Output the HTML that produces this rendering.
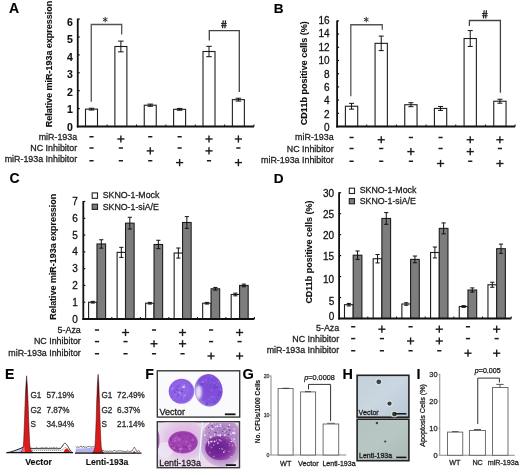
<!DOCTYPE html>
<html><head><meta charset="utf-8"><style>
html,body{margin:0;padding:0;background:#fff;}
svg{display:block;font-family:"Liberation Sans", sans-serif;will-change:transform;-webkit-font-smoothing:antialiased;}
</style></head><body>
<svg width="520" height="472" viewBox="0 0 520 472">
<rect width="520" height="472" fill="#fff"/>
<text x="9.00" y="12.60" font-size="14" font-weight="bold" text-anchor="start" fill="#000" stroke="#000" stroke-width="0.12">A</text>
<text x="52.40" y="127.25" font-size="8.96" font-weight="bold" text-anchor="start" fill="#111" transform="rotate(-90 52.4 127.25)" stroke="#111" stroke-width="0.12">Relative miR-193a expression</text>
<text x="72.80" y="130.73" font-size="10.5" font-weight="bold" text-anchor="end" fill="#111" stroke="#111" stroke-width="0.12">0</text>
<text x="72.80" y="113.21" font-size="10.5" font-weight="bold" text-anchor="end" fill="#111" stroke="#111" stroke-width="0.12">1</text>
<line x1="77.75" y1="108.60" x2="79.75" y2="108.60" stroke="#111" stroke-width="1.2"/>
<text x="72.80" y="95.69" font-size="10.5" font-weight="bold" text-anchor="end" fill="#111" stroke="#111" stroke-width="0.12">2</text>
<line x1="77.75" y1="90.70" x2="79.75" y2="90.70" stroke="#111" stroke-width="1.2"/>
<text x="72.80" y="78.16" font-size="10.5" font-weight="bold" text-anchor="end" fill="#111" stroke="#111" stroke-width="0.12">3</text>
<line x1="77.75" y1="72.80" x2="79.75" y2="72.80" stroke="#111" stroke-width="1.2"/>
<text x="72.80" y="60.63" font-size="10.5" font-weight="bold" text-anchor="end" fill="#111" stroke="#111" stroke-width="0.12">4</text>
<line x1="77.75" y1="54.90" x2="79.75" y2="54.90" stroke="#111" stroke-width="1.2"/>
<text x="72.80" y="43.11" font-size="10.5" font-weight="bold" text-anchor="end" fill="#111" stroke="#111" stroke-width="0.12">5</text>
<line x1="77.75" y1="37.00" x2="79.75" y2="37.00" stroke="#111" stroke-width="1.2"/>
<text x="72.80" y="25.59" font-size="10.5" font-weight="bold" text-anchor="end" fill="#111" stroke="#111" stroke-width="0.12">6</text>
<line x1="77.75" y1="19.10" x2="79.75" y2="19.10" stroke="#111" stroke-width="1.2"/>
<rect x="85.50" y="109.14" width="12.00" height="17.36" fill="#fff" stroke="#1e1e1e" stroke-width="1.1"/>
<line x1="91.50" y1="108.24" x2="91.50" y2="110.03" stroke="#111" stroke-width="1.0"/>
<line x1="88.75" y1="108.24" x2="94.25" y2="108.24" stroke="#111" stroke-width="1.0"/>
<line x1="88.75" y1="110.03" x2="94.25" y2="110.03" stroke="#111" stroke-width="1.0"/>
<rect x="114.88" y="46.49" width="12.00" height="80.01" fill="#fff" stroke="#1e1e1e" stroke-width="1.1"/>
<line x1="120.88" y1="41.12" x2="120.88" y2="51.86" stroke="#111" stroke-width="1.0"/>
<line x1="118.12" y1="41.12" x2="123.62" y2="41.12" stroke="#111" stroke-width="1.0"/>
<line x1="118.12" y1="51.86" x2="123.62" y2="51.86" stroke="#111" stroke-width="1.0"/>
<rect x="144.25" y="105.20" width="12.00" height="21.30" fill="#fff" stroke="#1e1e1e" stroke-width="1.1"/>
<line x1="150.25" y1="104.12" x2="150.25" y2="106.27" stroke="#111" stroke-width="1.0"/>
<line x1="147.50" y1="104.12" x2="153.00" y2="104.12" stroke="#111" stroke-width="1.0"/>
<line x1="147.50" y1="106.27" x2="153.00" y2="106.27" stroke="#111" stroke-width="1.0"/>
<rect x="173.62" y="109.32" width="12.00" height="17.18" fill="#fff" stroke="#1e1e1e" stroke-width="1.1"/>
<line x1="179.62" y1="108.42" x2="179.62" y2="110.21" stroke="#111" stroke-width="1.0"/>
<line x1="176.88" y1="108.42" x2="182.38" y2="108.42" stroke="#111" stroke-width="1.0"/>
<line x1="176.88" y1="110.21" x2="182.38" y2="110.21" stroke="#111" stroke-width="1.0"/>
<rect x="203.00" y="51.50" width="12.00" height="75.00" fill="#fff" stroke="#1e1e1e" stroke-width="1.1"/>
<line x1="209.00" y1="46.31" x2="209.00" y2="56.69" stroke="#111" stroke-width="1.0"/>
<line x1="206.25" y1="46.31" x2="211.75" y2="46.31" stroke="#111" stroke-width="1.0"/>
<line x1="206.25" y1="56.69" x2="211.75" y2="56.69" stroke="#111" stroke-width="1.0"/>
<rect x="232.38" y="99.65" width="12.00" height="26.85" fill="#fff" stroke="#1e1e1e" stroke-width="1.1"/>
<line x1="238.38" y1="98.22" x2="238.38" y2="101.08" stroke="#111" stroke-width="1.0"/>
<line x1="235.62" y1="98.22" x2="241.12" y2="98.22" stroke="#111" stroke-width="1.0"/>
<line x1="235.62" y1="101.08" x2="241.12" y2="101.08" stroke="#111" stroke-width="1.0"/>
<line x1="107.12" y1="126.50" x2="107.12" y2="124.50" stroke="#111" stroke-width="1"/>
<line x1="136.50" y1="126.50" x2="136.50" y2="124.50" stroke="#111" stroke-width="1"/>
<line x1="165.88" y1="126.50" x2="165.88" y2="124.50" stroke="#111" stroke-width="1"/>
<line x1="195.25" y1="126.50" x2="195.25" y2="124.50" stroke="#111" stroke-width="1"/>
<line x1="224.62" y1="126.50" x2="224.62" y2="124.50" stroke="#111" stroke-width="1"/>
<line x1="254.00" y1="126.50" x2="254.00" y2="124.50" stroke="#111" stroke-width="1"/>
<line x1="77.75" y1="18.60" x2="77.75" y2="127.50" stroke="#111" stroke-width="1.8"/>
<line x1="76.85" y1="126.50" x2="254.00" y2="126.50" stroke="#111" stroke-width="1.8"/>
<path d="M91.25,101.75 V24.5 H121.7 V34.6" stroke="#555" stroke-width="1.3" fill="none"/>
<line x1="105.20" y1="17.30" x2="105.20" y2="21.90" stroke="#333" stroke-width="1.0" stroke-linecap="round"/>
<line x1="103.21" y1="18.45" x2="107.19" y2="20.75" stroke="#333" stroke-width="1.0" stroke-linecap="round"/>
<line x1="103.21" y1="20.75" x2="107.19" y2="18.45" stroke="#333" stroke-width="1.0" stroke-linecap="round"/>
<path d="M209.3,40.6 V30.6 H239.3 V92.1" stroke="#444" stroke-width="1.3" fill="none"/>
<line x1="223.26" y1="20.40" x2="222.56" y2="28.20" stroke="#222" stroke-width="1.25"/>
<line x1="225.53" y1="20.40" x2="224.83" y2="28.20" stroke="#222" stroke-width="1.25"/>
<line x1="221.00" y1="23.52" x2="226.80" y2="23.52" stroke="#222" stroke-width="0.95"/>
<line x1="221.00" y1="25.63" x2="226.80" y2="25.63" stroke="#222" stroke-width="0.95"/>
<text x="77.20" y="139.90" font-size="8.9" font-weight="normal" text-anchor="end" fill="#222" stroke="#222" stroke-width="0.28">miR-193a</text>
<text x="77.20" y="151.10" font-size="8.9" font-weight="normal" text-anchor="end" fill="#222" stroke="#222" stroke-width="0.28">NC Inhibitor</text>
<text x="77.20" y="162.40" font-size="8.9" font-weight="normal" text-anchor="end" fill="#222" stroke="#222" stroke-width="0.28">miR-193a Inhibitor</text>
<line x1="89.40" y1="136.75" x2="93.60" y2="136.75" stroke="#1a1a1a" stroke-width="1.5"/>
<line x1="89.40" y1="148.00" x2="93.60" y2="148.00" stroke="#1a1a1a" stroke-width="1.5"/>
<line x1="89.40" y1="160.75" x2="93.60" y2="160.75" stroke="#1a1a1a" stroke-width="1.5"/>
<line x1="117.28" y1="139.00" x2="124.47" y2="139.00" stroke="#1a1a1a" stroke-width="1.4"/>
<line x1="120.88" y1="135.40" x2="120.88" y2="142.60" stroke="#1a1a1a" stroke-width="1.4"/>
<line x1="118.78" y1="148.00" x2="122.97" y2="148.00" stroke="#1a1a1a" stroke-width="1.5"/>
<line x1="118.78" y1="160.75" x2="122.97" y2="160.75" stroke="#1a1a1a" stroke-width="1.5"/>
<line x1="148.15" y1="136.75" x2="152.35" y2="136.75" stroke="#1a1a1a" stroke-width="1.5"/>
<line x1="146.65" y1="150.90" x2="153.85" y2="150.90" stroke="#1a1a1a" stroke-width="1.4"/>
<line x1="150.25" y1="147.30" x2="150.25" y2="154.50" stroke="#1a1a1a" stroke-width="1.4"/>
<line x1="148.15" y1="160.75" x2="152.35" y2="160.75" stroke="#1a1a1a" stroke-width="1.5"/>
<line x1="177.53" y1="136.75" x2="181.72" y2="136.75" stroke="#1a1a1a" stroke-width="1.5"/>
<line x1="177.53" y1="148.00" x2="181.72" y2="148.00" stroke="#1a1a1a" stroke-width="1.5"/>
<line x1="176.03" y1="162.60" x2="183.22" y2="162.60" stroke="#1a1a1a" stroke-width="1.4"/>
<line x1="179.62" y1="159.00" x2="179.62" y2="166.20" stroke="#1a1a1a" stroke-width="1.4"/>
<line x1="205.40" y1="139.00" x2="212.60" y2="139.00" stroke="#1a1a1a" stroke-width="1.4"/>
<line x1="209.00" y1="135.40" x2="209.00" y2="142.60" stroke="#1a1a1a" stroke-width="1.4"/>
<line x1="205.40" y1="150.90" x2="212.60" y2="150.90" stroke="#1a1a1a" stroke-width="1.4"/>
<line x1="209.00" y1="147.30" x2="209.00" y2="154.50" stroke="#1a1a1a" stroke-width="1.4"/>
<line x1="206.90" y1="160.75" x2="211.10" y2="160.75" stroke="#1a1a1a" stroke-width="1.5"/>
<line x1="234.78" y1="139.00" x2="241.97" y2="139.00" stroke="#1a1a1a" stroke-width="1.4"/>
<line x1="238.38" y1="135.40" x2="238.38" y2="142.60" stroke="#1a1a1a" stroke-width="1.4"/>
<line x1="236.28" y1="148.00" x2="240.47" y2="148.00" stroke="#1a1a1a" stroke-width="1.5"/>
<line x1="234.78" y1="162.60" x2="241.97" y2="162.60" stroke="#1a1a1a" stroke-width="1.4"/>
<line x1="238.38" y1="159.00" x2="238.38" y2="166.20" stroke="#1a1a1a" stroke-width="1.4"/>
<text x="273.80" y="12.50" font-size="13.6" font-weight="bold" text-anchor="start" fill="#000" stroke="#000" stroke-width="0.12">B</text>
<text x="306.60" y="125.20" font-size="9.06" font-weight="bold" text-anchor="start" fill="#111" transform="rotate(-90 306.6 125.2)" stroke="#111" stroke-width="0.12">CD11b positive cells (%)</text>
<text x="329.60" y="131.40" font-size="10" font-weight="normal" text-anchor="end" fill="#111" stroke="#111" stroke-width="0.28">0</text>
<text x="329.60" y="117.92" font-size="10" font-weight="normal" text-anchor="end" fill="#111" stroke="#111" stroke-width="0.28">2</text>
<line x1="337.10" y1="113.30" x2="339.10" y2="113.30" stroke="#111" stroke-width="1.2"/>
<text x="329.60" y="104.45" font-size="10" font-weight="normal" text-anchor="end" fill="#111" stroke="#111" stroke-width="0.28">4</text>
<line x1="337.10" y1="100.10" x2="339.10" y2="100.10" stroke="#111" stroke-width="1.2"/>
<text x="329.60" y="90.97" font-size="10" font-weight="normal" text-anchor="end" fill="#111" stroke="#111" stroke-width="0.28">6</text>
<line x1="337.10" y1="86.90" x2="339.10" y2="86.90" stroke="#111" stroke-width="1.2"/>
<text x="329.60" y="77.50" font-size="10" font-weight="normal" text-anchor="end" fill="#111" stroke="#111" stroke-width="0.28">8</text>
<line x1="337.10" y1="73.70" x2="339.10" y2="73.70" stroke="#111" stroke-width="1.2"/>
<text x="329.60" y="64.02" font-size="10" font-weight="normal" text-anchor="end" fill="#111" stroke="#111" stroke-width="0.28">10</text>
<line x1="337.10" y1="60.50" x2="339.10" y2="60.50" stroke="#111" stroke-width="1.2"/>
<text x="329.60" y="50.55" font-size="10" font-weight="normal" text-anchor="end" fill="#111" stroke="#111" stroke-width="0.28">12</text>
<line x1="337.10" y1="47.30" x2="339.10" y2="47.30" stroke="#111" stroke-width="1.2"/>
<text x="329.60" y="37.07" font-size="10" font-weight="normal" text-anchor="end" fill="#111" stroke="#111" stroke-width="0.28">14</text>
<line x1="337.10" y1="34.10" x2="339.10" y2="34.10" stroke="#111" stroke-width="1.2"/>
<text x="329.60" y="23.60" font-size="10" font-weight="normal" text-anchor="end" fill="#111" stroke="#111" stroke-width="0.28">16</text>
<line x1="337.10" y1="20.90" x2="339.10" y2="20.90" stroke="#111" stroke-width="1.2"/>
<rect x="345.40" y="106.24" width="12.30" height="20.26" fill="#fff" stroke="#1e1e1e" stroke-width="1.1"/>
<line x1="351.55" y1="103.33" x2="351.55" y2="109.14" stroke="#111" stroke-width="1.0"/>
<line x1="349.05" y1="103.33" x2="354.05" y2="103.33" stroke="#111" stroke-width="1.0"/>
<line x1="349.05" y1="109.14" x2="354.05" y2="109.14" stroke="#111" stroke-width="1.0"/>
<rect x="375.07" y="43.34" width="12.30" height="83.16" fill="#fff" stroke="#1e1e1e" stroke-width="1.1"/>
<line x1="381.22" y1="36.08" x2="381.22" y2="50.60" stroke="#111" stroke-width="1.0"/>
<line x1="378.72" y1="36.08" x2="383.72" y2="36.08" stroke="#111" stroke-width="1.0"/>
<line x1="378.72" y1="50.60" x2="383.72" y2="50.60" stroke="#111" stroke-width="1.0"/>
<rect x="404.74" y="104.72" width="12.30" height="21.78" fill="#fff" stroke="#1e1e1e" stroke-width="1.1"/>
<line x1="410.89" y1="102.74" x2="410.89" y2="106.70" stroke="#111" stroke-width="1.0"/>
<line x1="408.39" y1="102.74" x2="413.39" y2="102.74" stroke="#111" stroke-width="1.0"/>
<line x1="408.39" y1="106.70" x2="413.39" y2="106.70" stroke="#111" stroke-width="1.0"/>
<rect x="434.41" y="108.42" width="12.30" height="18.08" fill="#fff" stroke="#1e1e1e" stroke-width="1.1"/>
<line x1="440.56" y1="106.44" x2="440.56" y2="110.40" stroke="#111" stroke-width="1.0"/>
<line x1="438.06" y1="106.44" x2="443.06" y2="106.44" stroke="#111" stroke-width="1.0"/>
<line x1="438.06" y1="110.40" x2="443.06" y2="110.40" stroke="#111" stroke-width="1.0"/>
<rect x="464.08" y="38.52" width="12.30" height="87.98" fill="#fff" stroke="#1e1e1e" stroke-width="1.1"/>
<line x1="470.23" y1="30.60" x2="470.23" y2="46.44" stroke="#111" stroke-width="1.0"/>
<line x1="467.73" y1="30.60" x2="472.73" y2="30.60" stroke="#111" stroke-width="1.0"/>
<line x1="467.73" y1="46.44" x2="472.73" y2="46.44" stroke="#111" stroke-width="1.0"/>
<rect x="493.75" y="101.22" width="12.30" height="25.28" fill="#fff" stroke="#1e1e1e" stroke-width="1.1"/>
<line x1="499.90" y1="99.24" x2="499.90" y2="103.20" stroke="#111" stroke-width="1.0"/>
<line x1="497.40" y1="99.24" x2="502.40" y2="99.24" stroke="#111" stroke-width="1.0"/>
<line x1="497.40" y1="103.20" x2="502.40" y2="103.20" stroke="#111" stroke-width="1.0"/>
<line x1="366.77" y1="126.50" x2="366.77" y2="124.50" stroke="#111" stroke-width="1"/>
<line x1="396.44" y1="126.50" x2="396.44" y2="124.50" stroke="#111" stroke-width="1"/>
<line x1="426.11" y1="126.50" x2="426.11" y2="124.50" stroke="#111" stroke-width="1"/>
<line x1="455.78" y1="126.50" x2="455.78" y2="124.50" stroke="#111" stroke-width="1"/>
<line x1="485.45" y1="126.50" x2="485.45" y2="124.50" stroke="#111" stroke-width="1"/>
<line x1="515.12" y1="126.50" x2="515.12" y2="124.50" stroke="#111" stroke-width="1"/>
<line x1="337.10" y1="20.40" x2="337.10" y2="127.50" stroke="#111" stroke-width="1.8"/>
<line x1="336.20" y1="126.50" x2="515.12" y2="126.50" stroke="#111" stroke-width="1.8"/>
<path d="M350.8,96.25 V24.75 H382.25 V29.75" stroke="#555" stroke-width="1.3" fill="none"/>
<line x1="366.25" y1="17.30" x2="366.25" y2="21.90" stroke="#333" stroke-width="1.0" stroke-linecap="round"/>
<line x1="364.26" y1="18.45" x2="368.24" y2="20.75" stroke="#333" stroke-width="1.0" stroke-linecap="round"/>
<line x1="364.26" y1="20.75" x2="368.24" y2="18.45" stroke="#333" stroke-width="1.0" stroke-linecap="round"/>
<path d="M469.4,26 V20.5 H500.4 V92.75" stroke="#444" stroke-width="1.3" fill="none"/>
<line x1="484.16" y1="10.30" x2="483.46" y2="18.40" stroke="#222" stroke-width="1.25"/>
<line x1="486.43" y1="10.30" x2="485.73" y2="18.40" stroke="#222" stroke-width="1.25"/>
<line x1="481.90" y1="13.54" x2="487.70" y2="13.54" stroke="#222" stroke-width="0.95"/>
<line x1="481.90" y1="15.73" x2="487.70" y2="15.73" stroke="#222" stroke-width="0.95"/>
<text x="333.60" y="140.25" font-size="8.9" font-weight="normal" text-anchor="end" fill="#222" stroke="#222" stroke-width="0.28">miR-193a</text>
<text x="333.60" y="151.50" font-size="8.9" font-weight="normal" text-anchor="end" fill="#222" stroke="#222" stroke-width="0.28">NC Inhibitor</text>
<text x="333.60" y="162.50" font-size="8.9" font-weight="normal" text-anchor="end" fill="#222" stroke="#222" stroke-width="0.28">miR-193a Inhibitor</text>
<line x1="349.45" y1="137.50" x2="353.65" y2="137.50" stroke="#1a1a1a" stroke-width="1.5"/>
<line x1="349.45" y1="148.50" x2="353.65" y2="148.50" stroke="#1a1a1a" stroke-width="1.5"/>
<line x1="349.45" y1="161.25" x2="353.65" y2="161.25" stroke="#1a1a1a" stroke-width="1.5"/>
<line x1="377.62" y1="139.75" x2="384.82" y2="139.75" stroke="#1a1a1a" stroke-width="1.4"/>
<line x1="381.22" y1="136.15" x2="381.22" y2="143.35" stroke="#1a1a1a" stroke-width="1.4"/>
<line x1="379.12" y1="148.50" x2="383.32" y2="148.50" stroke="#1a1a1a" stroke-width="1.5"/>
<line x1="379.12" y1="161.25" x2="383.32" y2="161.25" stroke="#1a1a1a" stroke-width="1.5"/>
<line x1="408.79" y1="137.50" x2="412.99" y2="137.50" stroke="#1a1a1a" stroke-width="1.5"/>
<line x1="407.29" y1="151.60" x2="414.49" y2="151.60" stroke="#1a1a1a" stroke-width="1.4"/>
<line x1="410.89" y1="148.00" x2="410.89" y2="155.20" stroke="#1a1a1a" stroke-width="1.4"/>
<line x1="408.79" y1="161.25" x2="412.99" y2="161.25" stroke="#1a1a1a" stroke-width="1.5"/>
<line x1="438.46" y1="137.50" x2="442.66" y2="137.50" stroke="#1a1a1a" stroke-width="1.5"/>
<line x1="438.46" y1="148.50" x2="442.66" y2="148.50" stroke="#1a1a1a" stroke-width="1.5"/>
<line x1="436.96" y1="163.50" x2="444.16" y2="163.50" stroke="#1a1a1a" stroke-width="1.4"/>
<line x1="440.56" y1="159.90" x2="440.56" y2="167.10" stroke="#1a1a1a" stroke-width="1.4"/>
<line x1="466.63" y1="139.75" x2="473.83" y2="139.75" stroke="#1a1a1a" stroke-width="1.4"/>
<line x1="470.23" y1="136.15" x2="470.23" y2="143.35" stroke="#1a1a1a" stroke-width="1.4"/>
<line x1="466.63" y1="151.60" x2="473.83" y2="151.60" stroke="#1a1a1a" stroke-width="1.4"/>
<line x1="470.23" y1="148.00" x2="470.23" y2="155.20" stroke="#1a1a1a" stroke-width="1.4"/>
<line x1="468.13" y1="161.25" x2="472.33" y2="161.25" stroke="#1a1a1a" stroke-width="1.5"/>
<line x1="496.30" y1="139.75" x2="503.50" y2="139.75" stroke="#1a1a1a" stroke-width="1.4"/>
<line x1="499.90" y1="136.15" x2="499.90" y2="143.35" stroke="#1a1a1a" stroke-width="1.4"/>
<line x1="497.80" y1="148.50" x2="502.00" y2="148.50" stroke="#1a1a1a" stroke-width="1.5"/>
<line x1="496.30" y1="163.50" x2="503.50" y2="163.50" stroke="#1a1a1a" stroke-width="1.4"/>
<line x1="499.90" y1="159.90" x2="499.90" y2="167.10" stroke="#1a1a1a" stroke-width="1.4"/>
<text x="9.40" y="183.30" font-size="14" font-weight="bold" text-anchor="start" fill="#000" stroke="#000" stroke-width="0.12">C</text>
<text x="56.30" y="319.75" font-size="8.93" font-weight="bold" text-anchor="start" fill="#111" transform="rotate(-90 56.3 319.75)" stroke="#111" stroke-width="0.12">Relative miR-193a expression</text>
<text x="77.80" y="322.60" font-size="10" font-weight="normal" text-anchor="end" fill="#111" stroke="#111" stroke-width="0.28">0</text>
<text x="77.80" y="305.81" font-size="10" font-weight="normal" text-anchor="end" fill="#111" stroke="#111" stroke-width="0.28">1</text>
<line x1="83.30" y1="302.21" x2="85.30" y2="302.21" stroke="#111" stroke-width="1.2"/>
<text x="77.80" y="289.03" font-size="10" font-weight="normal" text-anchor="end" fill="#111" stroke="#111" stroke-width="0.28">2</text>
<line x1="83.30" y1="285.43" x2="85.30" y2="285.43" stroke="#111" stroke-width="1.2"/>
<text x="77.80" y="272.24" font-size="10" font-weight="normal" text-anchor="end" fill="#111" stroke="#111" stroke-width="0.28">3</text>
<line x1="83.30" y1="268.64" x2="85.30" y2="268.64" stroke="#111" stroke-width="1.2"/>
<text x="77.80" y="255.46" font-size="10" font-weight="normal" text-anchor="end" fill="#111" stroke="#111" stroke-width="0.28">4</text>
<line x1="83.30" y1="251.86" x2="85.30" y2="251.86" stroke="#111" stroke-width="1.2"/>
<text x="77.80" y="238.67" font-size="10" font-weight="normal" text-anchor="end" fill="#111" stroke="#111" stroke-width="0.28">5</text>
<line x1="83.30" y1="235.07" x2="85.30" y2="235.07" stroke="#111" stroke-width="1.2"/>
<text x="77.80" y="221.89" font-size="10" font-weight="normal" text-anchor="end" fill="#111" stroke="#111" stroke-width="0.28">6</text>
<line x1="83.30" y1="218.29" x2="85.30" y2="218.29" stroke="#111" stroke-width="1.2"/>
<text x="77.80" y="205.10" font-size="10" font-weight="normal" text-anchor="end" fill="#111" stroke="#111" stroke-width="0.28">7</text>
<line x1="83.30" y1="201.50" x2="85.30" y2="201.50" stroke="#111" stroke-width="1.2"/>
<rect x="88.60" y="302.21" width="8.40" height="16.79" fill="#fff" stroke="#1e1e1e" stroke-width="1.1"/>
<rect x="97.00" y="243.97" width="8.60" height="75.03" fill="#7d7d7d" stroke="#1e1e1e" stroke-width="1.1"/>
<line x1="92.80" y1="301.38" x2="92.80" y2="303.05" stroke="#111" stroke-width="1.0"/>
<line x1="90.70" y1="301.38" x2="94.90" y2="301.38" stroke="#111" stroke-width="1.0"/>
<line x1="90.70" y1="303.05" x2="94.90" y2="303.05" stroke="#111" stroke-width="1.0"/>
<line x1="101.30" y1="239.77" x2="101.30" y2="248.16" stroke="#111" stroke-width="1.0"/>
<line x1="99.20" y1="239.77" x2="103.40" y2="239.77" stroke="#111" stroke-width="1.0"/>
<line x1="99.20" y1="248.16" x2="103.40" y2="248.16" stroke="#111" stroke-width="1.0"/>
<rect x="117.12" y="252.36" width="8.40" height="66.64" fill="#fff" stroke="#1e1e1e" stroke-width="1.1"/>
<rect x="125.52" y="223.15" width="8.60" height="95.85" fill="#7d7d7d" stroke="#1e1e1e" stroke-width="1.1"/>
<line x1="121.32" y1="247.32" x2="121.32" y2="257.40" stroke="#111" stroke-width="1.0"/>
<line x1="119.22" y1="247.32" x2="123.42" y2="247.32" stroke="#111" stroke-width="1.0"/>
<line x1="119.22" y1="257.40" x2="123.42" y2="257.40" stroke="#111" stroke-width="1.0"/>
<line x1="129.82" y1="217.28" x2="129.82" y2="229.03" stroke="#111" stroke-width="1.0"/>
<line x1="127.72" y1="217.28" x2="131.92" y2="217.28" stroke="#111" stroke-width="1.0"/>
<line x1="127.72" y1="229.03" x2="131.92" y2="229.03" stroke="#111" stroke-width="1.0"/>
<rect x="145.63" y="303.22" width="8.40" height="15.78" fill="#fff" stroke="#1e1e1e" stroke-width="1.1"/>
<rect x="154.03" y="244.47" width="8.60" height="74.53" fill="#7d7d7d" stroke="#1e1e1e" stroke-width="1.1"/>
<line x1="149.83" y1="302.38" x2="149.83" y2="304.06" stroke="#111" stroke-width="1.0"/>
<line x1="147.73" y1="302.38" x2="151.93" y2="302.38" stroke="#111" stroke-width="1.0"/>
<line x1="147.73" y1="304.06" x2="151.93" y2="304.06" stroke="#111" stroke-width="1.0"/>
<line x1="158.33" y1="240.27" x2="158.33" y2="248.67" stroke="#111" stroke-width="1.0"/>
<line x1="156.23" y1="240.27" x2="160.43" y2="240.27" stroke="#111" stroke-width="1.0"/>
<line x1="156.23" y1="248.67" x2="160.43" y2="248.67" stroke="#111" stroke-width="1.0"/>
<rect x="174.15" y="253.03" width="8.40" height="65.97" fill="#fff" stroke="#1e1e1e" stroke-width="1.1"/>
<rect x="182.55" y="222.48" width="8.60" height="96.52" fill="#7d7d7d" stroke="#1e1e1e" stroke-width="1.1"/>
<line x1="178.35" y1="248.00" x2="178.35" y2="258.07" stroke="#111" stroke-width="1.0"/>
<line x1="176.25" y1="248.00" x2="180.45" y2="248.00" stroke="#111" stroke-width="1.0"/>
<line x1="176.25" y1="258.07" x2="180.45" y2="258.07" stroke="#111" stroke-width="1.0"/>
<line x1="186.85" y1="216.61" x2="186.85" y2="228.36" stroke="#111" stroke-width="1.0"/>
<line x1="184.75" y1="216.61" x2="188.95" y2="216.61" stroke="#111" stroke-width="1.0"/>
<line x1="184.75" y1="228.36" x2="188.95" y2="228.36" stroke="#111" stroke-width="1.0"/>
<rect x="202.67" y="303.22" width="8.40" height="15.78" fill="#fff" stroke="#1e1e1e" stroke-width="1.1"/>
<rect x="211.07" y="288.79" width="8.60" height="30.21" fill="#7d7d7d" stroke="#1e1e1e" stroke-width="1.1"/>
<line x1="206.87" y1="302.38" x2="206.87" y2="304.06" stroke="#111" stroke-width="1.0"/>
<line x1="204.77" y1="302.38" x2="208.97" y2="302.38" stroke="#111" stroke-width="1.0"/>
<line x1="204.77" y1="304.06" x2="208.97" y2="304.06" stroke="#111" stroke-width="1.0"/>
<line x1="215.37" y1="287.44" x2="215.37" y2="290.13" stroke="#111" stroke-width="1.0"/>
<line x1="213.27" y1="287.44" x2="217.47" y2="287.44" stroke="#111" stroke-width="1.0"/>
<line x1="213.27" y1="290.13" x2="217.47" y2="290.13" stroke="#111" stroke-width="1.0"/>
<rect x="231.18" y="294.49" width="8.40" height="24.51" fill="#fff" stroke="#1e1e1e" stroke-width="1.1"/>
<rect x="239.58" y="285.43" width="8.60" height="33.57" fill="#7d7d7d" stroke="#1e1e1e" stroke-width="1.1"/>
<line x1="235.38" y1="293.15" x2="235.38" y2="295.84" stroke="#111" stroke-width="1.0"/>
<line x1="233.28" y1="293.15" x2="237.48" y2="293.15" stroke="#111" stroke-width="1.0"/>
<line x1="233.28" y1="295.84" x2="237.48" y2="295.84" stroke="#111" stroke-width="1.0"/>
<line x1="243.88" y1="284.09" x2="243.88" y2="286.77" stroke="#111" stroke-width="1.0"/>
<line x1="241.78" y1="284.09" x2="245.98" y2="284.09" stroke="#111" stroke-width="1.0"/>
<line x1="241.78" y1="286.77" x2="245.98" y2="286.77" stroke="#111" stroke-width="1.0"/>
<line x1="111.82" y1="319.00" x2="111.82" y2="317.00" stroke="#111" stroke-width="1"/>
<line x1="140.33" y1="319.00" x2="140.33" y2="317.00" stroke="#111" stroke-width="1"/>
<line x1="168.85" y1="319.00" x2="168.85" y2="317.00" stroke="#111" stroke-width="1"/>
<line x1="197.37" y1="319.00" x2="197.37" y2="317.00" stroke="#111" stroke-width="1"/>
<line x1="225.88" y1="319.00" x2="225.88" y2="317.00" stroke="#111" stroke-width="1"/>
<line x1="254.40" y1="319.00" x2="254.40" y2="317.00" stroke="#111" stroke-width="1"/>
<line x1="83.30" y1="201.00" x2="83.30" y2="320.00" stroke="#111" stroke-width="1.8"/>
<line x1="82.40" y1="319.00" x2="254.40" y2="319.00" stroke="#111" stroke-width="1.8"/>
<rect x="92.20" y="192.90" width="5.30" height="5.40" fill="#fff" stroke="#222" stroke-width="1.1"/>
<rect x="92.20" y="204.20" width="5.30" height="5.20" fill="#7d7d7d" stroke="#222" stroke-width="1.1"/>
<text x="102.70" y="197.50" font-size="8.8" font-weight="normal" text-anchor="start" fill="#222" stroke="#222" stroke-width="0.28">SKNO-1-Mock</text>
<text x="102.70" y="209.80" font-size="8.8" font-weight="normal" text-anchor="start" fill="#222" stroke="#222" stroke-width="0.28">SKNO-1-siA/E</text>
<text x="80.80" y="332.50" font-size="8.9" font-weight="normal" text-anchor="end" fill="#222" stroke="#222" stroke-width="0.28">5-Aza</text>
<text x="80.80" y="343.75" font-size="8.9" font-weight="normal" text-anchor="end" fill="#222" stroke="#222" stroke-width="0.28">NC Inhibitor</text>
<text x="80.80" y="356.25" font-size="8.9" font-weight="normal" text-anchor="end" fill="#222" stroke="#222" stroke-width="0.28">miR-193a Inhibitor</text>
<line x1="94.90" y1="330.00" x2="99.10" y2="330.00" stroke="#1a1a1a" stroke-width="1.5"/>
<line x1="94.90" y1="341.60" x2="99.10" y2="341.60" stroke="#1a1a1a" stroke-width="1.5"/>
<line x1="94.90" y1="353.75" x2="99.10" y2="353.75" stroke="#1a1a1a" stroke-width="1.5"/>
<line x1="121.92" y1="332.50" x2="129.12" y2="332.50" stroke="#1a1a1a" stroke-width="1.4"/>
<line x1="125.52" y1="328.90" x2="125.52" y2="336.10" stroke="#1a1a1a" stroke-width="1.4"/>
<line x1="123.42" y1="341.60" x2="127.62" y2="341.60" stroke="#1a1a1a" stroke-width="1.5"/>
<line x1="123.42" y1="353.75" x2="127.62" y2="353.75" stroke="#1a1a1a" stroke-width="1.5"/>
<line x1="151.93" y1="330.00" x2="156.13" y2="330.00" stroke="#1a1a1a" stroke-width="1.5"/>
<line x1="150.43" y1="343.75" x2="157.63" y2="343.75" stroke="#1a1a1a" stroke-width="1.4"/>
<line x1="154.03" y1="340.15" x2="154.03" y2="347.35" stroke="#1a1a1a" stroke-width="1.4"/>
<line x1="151.93" y1="353.75" x2="156.13" y2="353.75" stroke="#1a1a1a" stroke-width="1.5"/>
<line x1="178.95" y1="332.50" x2="186.15" y2="332.50" stroke="#1a1a1a" stroke-width="1.4"/>
<line x1="182.55" y1="328.90" x2="182.55" y2="336.10" stroke="#1a1a1a" stroke-width="1.4"/>
<line x1="178.95" y1="343.75" x2="186.15" y2="343.75" stroke="#1a1a1a" stroke-width="1.4"/>
<line x1="182.55" y1="340.15" x2="182.55" y2="347.35" stroke="#1a1a1a" stroke-width="1.4"/>
<line x1="180.45" y1="353.75" x2="184.65" y2="353.75" stroke="#1a1a1a" stroke-width="1.5"/>
<line x1="208.97" y1="330.00" x2="213.17" y2="330.00" stroke="#1a1a1a" stroke-width="1.5"/>
<line x1="208.97" y1="341.60" x2="213.17" y2="341.60" stroke="#1a1a1a" stroke-width="1.5"/>
<line x1="207.47" y1="356.00" x2="214.67" y2="356.00" stroke="#1a1a1a" stroke-width="1.4"/>
<line x1="211.07" y1="352.40" x2="211.07" y2="359.60" stroke="#1a1a1a" stroke-width="1.4"/>
<line x1="235.98" y1="332.50" x2="243.18" y2="332.50" stroke="#1a1a1a" stroke-width="1.4"/>
<line x1="239.58" y1="328.90" x2="239.58" y2="336.10" stroke="#1a1a1a" stroke-width="1.4"/>
<line x1="237.48" y1="341.60" x2="241.68" y2="341.60" stroke="#1a1a1a" stroke-width="1.5"/>
<line x1="235.98" y1="356.00" x2="243.18" y2="356.00" stroke="#1a1a1a" stroke-width="1.4"/>
<line x1="239.58" y1="352.40" x2="239.58" y2="359.60" stroke="#1a1a1a" stroke-width="1.4"/>
<text x="273.80" y="183.10" font-size="13.6" font-weight="bold" text-anchor="start" fill="#000" stroke="#000" stroke-width="0.12">D</text>
<text x="311.60" y="303.60" font-size="8.96" font-weight="bold" text-anchor="start" fill="#111" transform="rotate(-90 311.6 303.6)" stroke="#111" stroke-width="0.12">CD11b positive cells (%)</text>
<text x="334.20" y="320.40" font-size="10" font-weight="normal" text-anchor="end" fill="#111" stroke="#111" stroke-width="0.28">0</text>
<text x="334.20" y="304.50" font-size="10" font-weight="normal" text-anchor="end" fill="#111" stroke="#111" stroke-width="0.28">5</text>
<line x1="339.10" y1="297.54" x2="341.10" y2="297.54" stroke="#111" stroke-width="1.2"/>
<text x="334.20" y="282.70" font-size="10" font-weight="normal" text-anchor="end" fill="#111" stroke="#111" stroke-width="0.28">10</text>
<line x1="339.10" y1="276.58" x2="341.10" y2="276.58" stroke="#111" stroke-width="1.2"/>
<text x="334.20" y="260.10" font-size="10" font-weight="normal" text-anchor="end" fill="#111" stroke="#111" stroke-width="0.28">15</text>
<line x1="339.10" y1="255.62" x2="341.10" y2="255.62" stroke="#111" stroke-width="1.2"/>
<text x="334.20" y="239.10" font-size="10" font-weight="normal" text-anchor="end" fill="#111" stroke="#111" stroke-width="0.28">20</text>
<line x1="339.10" y1="234.67" x2="341.10" y2="234.67" stroke="#111" stroke-width="1.2"/>
<text x="334.20" y="218.20" font-size="10" font-weight="normal" text-anchor="end" fill="#111" stroke="#111" stroke-width="0.28">25</text>
<line x1="339.10" y1="213.71" x2="341.10" y2="213.71" stroke="#111" stroke-width="1.2"/>
<text x="334.20" y="196.90" font-size="10" font-weight="normal" text-anchor="end" fill="#111" stroke="#111" stroke-width="0.28">30</text>
<line x1="339.10" y1="192.75" x2="341.10" y2="192.75" stroke="#111" stroke-width="1.2"/>
<rect x="344.50" y="304.67" width="8.70" height="13.83" fill="#fff" stroke="#1e1e1e" stroke-width="1.1"/>
<rect x="353.20" y="255.21" width="8.70" height="63.29" fill="#7d7d7d" stroke="#1e1e1e" stroke-width="1.1"/>
<line x1="348.85" y1="303.41" x2="348.85" y2="305.93" stroke="#111" stroke-width="1.0"/>
<line x1="346.75" y1="303.41" x2="350.95" y2="303.41" stroke="#111" stroke-width="1.0"/>
<line x1="346.75" y1="305.93" x2="350.95" y2="305.93" stroke="#111" stroke-width="1.0"/>
<line x1="357.55" y1="251.01" x2="357.55" y2="259.40" stroke="#111" stroke-width="1.0"/>
<line x1="355.45" y1="251.01" x2="359.65" y2="251.01" stroke="#111" stroke-width="1.0"/>
<line x1="355.45" y1="259.40" x2="359.65" y2="259.40" stroke="#111" stroke-width="1.0"/>
<rect x="373.19" y="258.73" width="8.70" height="59.77" fill="#fff" stroke="#1e1e1e" stroke-width="1.1"/>
<rect x="381.89" y="218.44" width="8.70" height="100.06" fill="#7d7d7d" stroke="#1e1e1e" stroke-width="1.1"/>
<line x1="377.54" y1="254.54" x2="377.54" y2="262.92" stroke="#111" stroke-width="1.0"/>
<line x1="375.44" y1="254.54" x2="379.64" y2="254.54" stroke="#111" stroke-width="1.0"/>
<line x1="375.44" y1="262.92" x2="379.64" y2="262.92" stroke="#111" stroke-width="1.0"/>
<line x1="386.24" y1="212.58" x2="386.24" y2="224.31" stroke="#111" stroke-width="1.0"/>
<line x1="384.14" y1="212.58" x2="388.34" y2="212.58" stroke="#111" stroke-width="1.0"/>
<line x1="384.14" y1="224.31" x2="388.34" y2="224.31" stroke="#111" stroke-width="1.0"/>
<rect x="401.88" y="304.00" width="8.70" height="14.50" fill="#fff" stroke="#1e1e1e" stroke-width="1.1"/>
<rect x="410.58" y="259.40" width="8.70" height="59.10" fill="#7d7d7d" stroke="#1e1e1e" stroke-width="1.1"/>
<line x1="406.23" y1="302.74" x2="406.23" y2="305.25" stroke="#111" stroke-width="1.0"/>
<line x1="404.13" y1="302.74" x2="408.33" y2="302.74" stroke="#111" stroke-width="1.0"/>
<line x1="404.13" y1="305.25" x2="408.33" y2="305.25" stroke="#111" stroke-width="1.0"/>
<line x1="414.93" y1="256.04" x2="414.93" y2="262.75" stroke="#111" stroke-width="1.0"/>
<line x1="412.83" y1="256.04" x2="417.03" y2="256.04" stroke="#111" stroke-width="1.0"/>
<line x1="412.83" y1="262.75" x2="417.03" y2="262.75" stroke="#111" stroke-width="1.0"/>
<rect x="430.57" y="252.48" width="8.70" height="66.02" fill="#fff" stroke="#1e1e1e" stroke-width="1.1"/>
<rect x="439.27" y="228.38" width="8.70" height="90.12" fill="#7d7d7d" stroke="#1e1e1e" stroke-width="1.1"/>
<line x1="434.93" y1="247.03" x2="434.93" y2="257.93" stroke="#111" stroke-width="1.0"/>
<line x1="432.82" y1="247.03" x2="437.03" y2="247.03" stroke="#111" stroke-width="1.0"/>
<line x1="432.82" y1="257.93" x2="437.03" y2="257.93" stroke="#111" stroke-width="1.0"/>
<line x1="443.62" y1="222.93" x2="443.62" y2="233.83" stroke="#111" stroke-width="1.0"/>
<line x1="441.52" y1="222.93" x2="445.73" y2="222.93" stroke="#111" stroke-width="1.0"/>
<line x1="441.52" y1="233.83" x2="445.73" y2="233.83" stroke="#111" stroke-width="1.0"/>
<rect x="459.27" y="306.51" width="8.70" height="11.99" fill="#fff" stroke="#1e1e1e" stroke-width="1.1"/>
<rect x="467.97" y="290.00" width="8.70" height="28.50" fill="#7d7d7d" stroke="#1e1e1e" stroke-width="1.1"/>
<line x1="463.62" y1="305.67" x2="463.62" y2="307.35" stroke="#111" stroke-width="1.0"/>
<line x1="461.52" y1="305.67" x2="465.72" y2="305.67" stroke="#111" stroke-width="1.0"/>
<line x1="461.52" y1="307.35" x2="465.72" y2="307.35" stroke="#111" stroke-width="1.0"/>
<line x1="472.32" y1="287.90" x2="472.32" y2="292.09" stroke="#111" stroke-width="1.0"/>
<line x1="470.22" y1="287.90" x2="474.42" y2="287.90" stroke="#111" stroke-width="1.0"/>
<line x1="470.22" y1="292.09" x2="474.42" y2="292.09" stroke="#111" stroke-width="1.0"/>
<rect x="487.96" y="284.76" width="8.70" height="33.74" fill="#fff" stroke="#1e1e1e" stroke-width="1.1"/>
<rect x="496.66" y="248.71" width="8.70" height="69.79" fill="#7d7d7d" stroke="#1e1e1e" stroke-width="1.1"/>
<line x1="492.31" y1="282.24" x2="492.31" y2="287.27" stroke="#111" stroke-width="1.0"/>
<line x1="490.21" y1="282.24" x2="494.41" y2="282.24" stroke="#111" stroke-width="1.0"/>
<line x1="490.21" y1="287.27" x2="494.41" y2="287.27" stroke="#111" stroke-width="1.0"/>
<line x1="501.01" y1="244.10" x2="501.01" y2="253.32" stroke="#111" stroke-width="1.0"/>
<line x1="498.91" y1="244.10" x2="503.11" y2="244.10" stroke="#111" stroke-width="1.0"/>
<line x1="498.91" y1="253.32" x2="503.11" y2="253.32" stroke="#111" stroke-width="1.0"/>
<line x1="367.79" y1="318.50" x2="367.79" y2="316.50" stroke="#111" stroke-width="1"/>
<line x1="396.48" y1="318.50" x2="396.48" y2="316.50" stroke="#111" stroke-width="1"/>
<line x1="425.18" y1="318.50" x2="425.18" y2="316.50" stroke="#111" stroke-width="1"/>
<line x1="453.87" y1="318.50" x2="453.87" y2="316.50" stroke="#111" stroke-width="1"/>
<line x1="482.56" y1="318.50" x2="482.56" y2="316.50" stroke="#111" stroke-width="1"/>
<line x1="511.25" y1="318.50" x2="511.25" y2="316.50" stroke="#111" stroke-width="1"/>
<line x1="339.10" y1="192.25" x2="339.10" y2="319.50" stroke="#111" stroke-width="1.8"/>
<line x1="338.20" y1="318.50" x2="511.25" y2="318.50" stroke="#111" stroke-width="1.8"/>
<rect x="349.30" y="188.20" width="5.20" height="5.30" fill="#fff" stroke="#222" stroke-width="1.1"/>
<rect x="349.30" y="198.60" width="5.20" height="5.20" fill="#7d7d7d" stroke="#222" stroke-width="1.1"/>
<text x="359.70" y="192.50" font-size="8.8" font-weight="normal" text-anchor="start" fill="#222" stroke="#222" stroke-width="0.28">SKNO-1-Mock</text>
<text x="359.70" y="203.80" font-size="8.8" font-weight="normal" text-anchor="start" fill="#222" stroke="#222" stroke-width="0.28">SKNO-1-siA/E</text>
<text x="339.20" y="330.50" font-size="8.9" font-weight="normal" text-anchor="end" fill="#222" stroke="#222" stroke-width="0.28">5-Aza</text>
<text x="339.20" y="341.75" font-size="8.9" font-weight="normal" text-anchor="end" fill="#222" stroke="#222" stroke-width="0.28">NC Inhibitor</text>
<text x="339.20" y="353.00" font-size="8.9" font-weight="normal" text-anchor="end" fill="#222" stroke="#222" stroke-width="0.28">miR-193a Inhibitor</text>
<line x1="351.10" y1="326.75" x2="355.30" y2="326.75" stroke="#1a1a1a" stroke-width="1.5"/>
<line x1="351.10" y1="338.60" x2="355.30" y2="338.60" stroke="#1a1a1a" stroke-width="1.5"/>
<line x1="351.10" y1="350.75" x2="355.30" y2="350.75" stroke="#1a1a1a" stroke-width="1.5"/>
<line x1="378.29" y1="329.20" x2="385.49" y2="329.20" stroke="#1a1a1a" stroke-width="1.4"/>
<line x1="381.89" y1="325.60" x2="381.89" y2="332.80" stroke="#1a1a1a" stroke-width="1.4"/>
<line x1="379.79" y1="338.60" x2="383.99" y2="338.60" stroke="#1a1a1a" stroke-width="1.5"/>
<line x1="379.79" y1="350.75" x2="383.99" y2="350.75" stroke="#1a1a1a" stroke-width="1.5"/>
<line x1="408.48" y1="326.75" x2="412.68" y2="326.75" stroke="#1a1a1a" stroke-width="1.5"/>
<line x1="406.98" y1="341.00" x2="414.18" y2="341.00" stroke="#1a1a1a" stroke-width="1.4"/>
<line x1="410.58" y1="337.40" x2="410.58" y2="344.60" stroke="#1a1a1a" stroke-width="1.4"/>
<line x1="408.48" y1="350.75" x2="412.68" y2="350.75" stroke="#1a1a1a" stroke-width="1.5"/>
<line x1="435.67" y1="329.20" x2="442.88" y2="329.20" stroke="#1a1a1a" stroke-width="1.4"/>
<line x1="439.27" y1="325.60" x2="439.27" y2="332.80" stroke="#1a1a1a" stroke-width="1.4"/>
<line x1="435.67" y1="341.00" x2="442.88" y2="341.00" stroke="#1a1a1a" stroke-width="1.4"/>
<line x1="439.27" y1="337.40" x2="439.27" y2="344.60" stroke="#1a1a1a" stroke-width="1.4"/>
<line x1="437.17" y1="350.75" x2="441.38" y2="350.75" stroke="#1a1a1a" stroke-width="1.5"/>
<line x1="465.87" y1="326.75" x2="470.07" y2="326.75" stroke="#1a1a1a" stroke-width="1.5"/>
<line x1="465.87" y1="338.60" x2="470.07" y2="338.60" stroke="#1a1a1a" stroke-width="1.5"/>
<line x1="464.37" y1="353.20" x2="471.57" y2="353.20" stroke="#1a1a1a" stroke-width="1.4"/>
<line x1="467.97" y1="349.60" x2="467.97" y2="356.80" stroke="#1a1a1a" stroke-width="1.4"/>
<line x1="493.06" y1="329.20" x2="500.26" y2="329.20" stroke="#1a1a1a" stroke-width="1.4"/>
<line x1="496.66" y1="325.60" x2="496.66" y2="332.80" stroke="#1a1a1a" stroke-width="1.4"/>
<line x1="494.56" y1="338.60" x2="498.76" y2="338.60" stroke="#1a1a1a" stroke-width="1.5"/>
<line x1="493.06" y1="353.20" x2="500.26" y2="353.20" stroke="#1a1a1a" stroke-width="1.4"/>
<line x1="496.66" y1="349.60" x2="496.66" y2="356.80" stroke="#1a1a1a" stroke-width="1.4"/>
<text x="5.00" y="379.10" font-size="14" font-weight="bold" text-anchor="start" fill="#000" stroke="#000" stroke-width="0.12">E</text>
<path d="M7,452.7 C12,452.2 16,449.8 20,448.5 L23.5,447 L24.5,452.7 Z" stroke="none" stroke-width="0" fill="#c4cbee"/>
<path d="M6.5,452.7 C12,452.1 16,450.0 20,448.6 L23.5,447.2" stroke="#222" stroke-width="1.0" fill="none"/>
<path d="M29.5,448.6 L60,448.8 C62,448 63,444 64.5,443.3 C66.5,443 68,447 70,450 L72,452.7" stroke="#222" stroke-width="0.9" fill="none"/>
<path d="M30,450.3 L61,450.6 C63,450 64,447.5 65.5,447.5 C67,447.5 68,450 70,451.5" stroke="#555" stroke-width="0.6" fill="none" stroke-dasharray="1.2 0.8"/>
<path d="M31.00,448.05 L31.90,448.19 L32.80,448.25 L33.70,448.43 L34.60,448.19 L35.50,448.41 L36.40,447.33 L37.30,447.86 L38.20,448.43 L39.10,448.08 L40.00,448.38 L40.90,447.44 L41.80,447.86 L42.70,447.60 L43.60,447.95 L44.50,447.99 L45.40,447.32 L46.30,447.56 L47.20,447.64 L48.10,448.40 L49.00,448.22 L49.90,447.49 L50.80,448.26 L51.70,447.47 L52.60,448.04 L53.50,447.45 L54.40,447.30 L55.30,448.35 L56.20,447.55 L57.10,447.56 L58.00,448.48 L58.90,448.35 L59.80,447.65" stroke="#444" stroke-width="0.6" fill="none"/>
<path d="M63.3,452.7 C64.5,449.5 66,448.2 67,448.5 C68.5,449 69.5,451 71,452.7 Z" stroke="none" stroke-width="0" fill="#d41c1c"/>
<defs><linearGradient id="pk1" gradientUnits="userSpaceOnUse" x1="0" y1="375" x2="0" y2="452"><stop offset="0" stop-color="#555"/><stop offset="0.1" stop-color="#3a1010"/><stop offset="0.2" stop-color="#8a0c10"/><stop offset="0.38" stop-color="#cc1818"/><stop offset="1" stop-color="#e01c1c"/></linearGradient><linearGradient id="pk2" gradientUnits="userSpaceOnUse" x1="0" y1="374" x2="0" y2="452"><stop offset="0" stop-color="#444"/><stop offset="0.1" stop-color="#2a0808"/><stop offset="0.22" stop-color="#8a0c10"/><stop offset="0.4" stop-color="#cc1818"/><stop offset="1" stop-color="#e01c1c"/></linearGradient></defs>
<path d="M26.60,375.80 L27.05,381.80 L27.30,385.80 L27.80,395.80 L28.20,405.80 L28.70,420.80 L29.10,430.80 L29.50,440.80 L29.90,445.80 L30.50,448.80 L31.60,451.30 L33.40,452.70 L19.80,452.70 L21.60,451.30 L22.70,448.80 L23.30,445.80 L23.70,440.80 L24.10,430.80 L24.50,420.80 L25.00,405.80 L25.40,395.80 L25.90,385.80 L26.15,381.80 Z" stroke="#3a0606" stroke-width="0.5" fill="url(#pk1)"/>
<path d="M21.5,452.7 C22.5,449 23.5,447 24.3,446 L25,452.7 Z" stroke="none" stroke-width="0" fill="#e08aa0" opacity="0.8"/>
<line x1="6.50" y1="452.70" x2="73.00" y2="452.70" stroke="#111" stroke-width="1.2"/>
<path d="M75.5,453.1 L75.8,448.6 L80,448.4 L85,448.2 L90,448.0 L95,447.8 L95.5,453.1 Z" stroke="none" stroke-width="0" fill="#b4b0ea"/>
<path d="M75.80,446.73 L76.70,447.24 L77.60,446.89 L78.50,447.28 L79.40,447.28 L80.30,446.24 L81.20,446.11 L82.10,447.56 L83.00,446.48 L83.90,446.40 L84.80,447.73 L85.70,446.75 L86.60,447.37 L87.50,446.69 L88.40,446.95 L89.30,446.03 L90.20,446.87 L91.10,447.25 L92.00,446.59 L92.90,446.95 L93.80,446.79 L94.70,445.66" stroke="#333" stroke-width="0.7" fill="none"/>
<path d="M98.10,374.30 L98.55,380.30 L98.80,384.30 L99.20,394.30 L99.60,404.30 L100.00,419.30 L100.40,429.30 L100.80,439.30 L101.20,446.30 L101.70,449.30 L102.70,451.80 L103.90,453.10 L92.30,453.10 L93.50,451.80 L94.50,449.30 L95.00,446.30 L95.40,439.30 L95.80,429.30 L96.20,419.30 L96.60,404.30 L97.00,394.30 L97.40,384.30 L97.65,380.30 Z" stroke="#3a0606" stroke-width="0.5" fill="url(#pk2)"/>
<path d="M101.50,451.31 L102.30,451.11 L103.10,450.76 L103.90,450.44 L104.70,451.44 L105.50,450.97 L106.30,451.26 L107.10,451.45 L107.90,451.26 L108.70,451.51 L109.50,450.87 L110.30,451.36 L111.10,450.93 L111.90,451.52 L112.70,451.45 L113.50,450.52 L114.30,450.56 L115.10,450.66 L115.90,451.56 L116.70,450.92 L117.50,451.15 L118.30,450.76 L119.10,451.01 L119.90,450.86 L120.70,450.82 L121.50,451.10 L122.30,451.10 L123.10,451.49 L123.90,451.22 L124.70,451.51 L125.50,451.43 L126.30,451.59 L127.10,451.21 L127.90,450.60 L128.70,451.43 L129.50,451.56 L130.30,451.49 L131.10,451.07 L131.90,451.08 L132.70,449.60 L133.50,448.40 L134.30,447.11 L135.10,448.27 L135.90,449.75 L136.70,451.33 L137.50,451.59 L138.30,450.51 L139.10,451.36 L139.90,450.89" stroke="#333" stroke-width="0.7" fill="none"/>
<path d="M133,453.1 L134.2,450.5 L135.5,453.1 Z" stroke="none" stroke-width="0" fill="#c02020"/>
<line x1="75.00" y1="453.10" x2="141.50" y2="453.10" stroke="#111" stroke-width="1.2"/>
<text x="30.40" y="398.10" font-size="8.2" font-weight="normal" text-anchor="start" fill="#2a2a2a" stroke="#2a2a2a" stroke-width="0.28">G1</text>
<text x="46.40" y="398.10" font-size="8.2" font-weight="normal" text-anchor="start" fill="#2a2a2a" stroke="#2a2a2a" stroke-width="0.28">57.19%</text>
<text x="30.40" y="412.50" font-size="8.2" font-weight="normal" text-anchor="start" fill="#2a2a2a" stroke="#2a2a2a" stroke-width="0.28">G2</text>
<text x="46.40" y="412.50" font-size="8.2" font-weight="normal" text-anchor="start" fill="#2a2a2a" stroke="#2a2a2a" stroke-width="0.28">7.87%</text>
<text x="30.40" y="426.90" font-size="8.2" font-weight="normal" text-anchor="start" fill="#2a2a2a" stroke="#2a2a2a" stroke-width="0.28">S</text>
<text x="46.40" y="426.90" font-size="8.2" font-weight="normal" text-anchor="start" fill="#2a2a2a" stroke="#2a2a2a" stroke-width="0.28">34.94%</text>
<text x="101.40" y="397.70" font-size="8.2" font-weight="normal" text-anchor="start" fill="#2a2a2a" stroke="#2a2a2a" stroke-width="0.28">G1</text>
<text x="117.10" y="397.70" font-size="8.2" font-weight="normal" text-anchor="start" fill="#2a2a2a" stroke="#2a2a2a" stroke-width="0.28">72.49%</text>
<text x="101.40" y="412.60" font-size="8.2" font-weight="normal" text-anchor="start" fill="#2a2a2a" stroke="#2a2a2a" stroke-width="0.28">G2</text>
<text x="117.10" y="412.60" font-size="8.2" font-weight="normal" text-anchor="start" fill="#2a2a2a" stroke="#2a2a2a" stroke-width="0.28">6.37%</text>
<text x="101.40" y="427.00" font-size="8.2" font-weight="normal" text-anchor="start" fill="#2a2a2a" stroke="#2a2a2a" stroke-width="0.28">S</text>
<text x="117.10" y="427.00" font-size="8.2" font-weight="normal" text-anchor="start" fill="#2a2a2a" stroke="#2a2a2a" stroke-width="0.28">21.14%</text>
<text x="38.60" y="465.20" font-size="8.75" font-weight="bold" text-anchor="middle" fill="#111" stroke="#111" stroke-width="0.12">Vector</text>
<text x="107.00" y="465.00" font-size="8.65" font-weight="bold" text-anchor="middle" fill="#111" stroke="#111" stroke-width="0.12">Lenti-193a</text>
<text x="145.20" y="379.40" font-size="14.2" font-weight="bold" text-anchor="start" fill="#000" stroke="#000" stroke-width="0.12">F</text>
<defs>
<radialGradient id="c1" cx="0.45" cy="0.45" r="0.6"><stop offset="0" stop-color="#9a6cee"/><stop offset="0.8" stop-color="#8a5ee2"/><stop offset="1" stop-color="#a890e8"/></radialGradient>
<radialGradient id="c2" cx="0.6" cy="0.45" r="0.6"><stop offset="0" stop-color="#7a4ad8"/><stop offset="0.75" stop-color="#8454dc"/><stop offset="1" stop-color="#9c80e0"/></radialGradient>
<radialGradient id="n1" cx="0.5" cy="0.5" r="0.55"><stop offset="0" stop-color="#a444b4"/><stop offset="0.8" stop-color="#9a3cac"/><stop offset="1" stop-color="#b468c0"/></radialGradient>
<radialGradient id="n2" cx="0.4" cy="0.5" r="0.6"><stop offset="0" stop-color="#62208e"/><stop offset="0.6" stop-color="#7a2c9a"/><stop offset="1" stop-color="#a460b4"/></radialGradient>
<radialGradient id="cy1" cx="0.6" cy="0.5" r="0.6"><stop offset="0" stop-color="#d8a8da"/><stop offset="0.6" stop-color="#e2c4e6"/><stop offset="1" stop-color="#eee4f2"/></radialGradient>
<radialGradient id="cy2" cx="0.5" cy="0.45" r="0.6"><stop offset="0" stop-color="#9c70be"/><stop offset="0.7" stop-color="#bc94cc"/><stop offset="1" stop-color="#e2c8e6"/></radialGradient>
</defs>
<rect x="157.30" y="370.80" width="82.40" height="46.30" fill="#fafafc" stroke="#3a3a3a" stroke-width="1.4"/>
<defs><filter id="bl" x="-10%" y="-10%" width="120%" height="120%"><feGaussianBlur stdDeviation="0.55"/></filter><filter id="bl2" x="-20%" y="-20%" width="140%" height="140%"><feGaussianBlur stdDeviation="1.2"/></filter></defs>
<g filter="url(#bl)">
<ellipse cx="181.5" cy="391.3" rx="12.8" ry="12.5" fill="url(#c1)"/>
<ellipse cx="208.6" cy="390.3" rx="14" ry="16.3" fill="url(#c2)" transform="rotate(-8 208.6 390.3)"/>
<circle cx="175.6" cy="393.1" r="1.01" fill="#7448d0" opacity="0.6"/>
<circle cx="182.8" cy="389.6" r="1.17" fill="#7448d0" opacity="0.6"/>
<circle cx="181.8" cy="390.3" r="0.73" fill="#b898f0" opacity="0.6"/>
<circle cx="172.0" cy="388.9" r="1.14" fill="#b48cf2" opacity="0.6"/>
<circle cx="177.5" cy="394.3" r="1.16" fill="#6e44cc" opacity="0.6"/>
<circle cx="181.8" cy="390.7" r="0.77" fill="#b48cf2" opacity="0.6"/>
<circle cx="181.5" cy="391.6" r="0.89" fill="#7448d0" opacity="0.6"/>
<circle cx="179.7" cy="390.1" r="1.18" fill="#6e44cc" opacity="0.6"/>
<circle cx="174.2" cy="391.3" r="1.19" fill="#7448d0" opacity="0.6"/>
<circle cx="176.4" cy="394.7" r="1.24" fill="#b48cf2" opacity="0.6"/>
<circle cx="180.5" cy="393.6" r="0.63" fill="#b898f0" opacity="0.6"/>
<circle cx="180.4" cy="390.8" r="1.36" fill="#b48cf2" opacity="0.6"/>
<circle cx="173.5" cy="398.2" r="0.79" fill="#b48cf2" opacity="0.6"/>
<circle cx="182.0" cy="391.0" r="1.48" fill="#7448d0" opacity="0.6"/>
<circle cx="180.9" cy="391.8" r="1.30" fill="#6e44cc" opacity="0.6"/>
<circle cx="181.4" cy="392.3" r="0.61" fill="#b898f0" opacity="0.6"/>
<circle cx="172.9" cy="396.7" r="0.82" fill="#6e44cc" opacity="0.6"/>
<circle cx="182.0" cy="391.7" r="0.76" fill="#7448d0" opacity="0.6"/>
<circle cx="176.9" cy="389.5" r="1.49" fill="#6e44cc" opacity="0.6"/>
<circle cx="182.1" cy="386.7" r="0.70" fill="#7448d0" opacity="0.6"/>
<circle cx="179.4" cy="392.4" r="1.38" fill="#b898f0" opacity="0.6"/>
<circle cx="187.9" cy="390.3" r="0.79" fill="#b48cf2" opacity="0.6"/>
<circle cx="174.1" cy="397.1" r="0.64" fill="#b48cf2" opacity="0.6"/>
<circle cx="184.4" cy="395.2" r="1.30" fill="#b48cf2" opacity="0.6"/>
<circle cx="179.9" cy="394.2" r="0.67" fill="#b48cf2" opacity="0.6"/>
<circle cx="183.3" cy="398.1" r="1.14" fill="#b48cf2" opacity="0.6"/>
<circle cx="178.0" cy="394.9" r="1.35" fill="#7448d0" opacity="0.6"/>
<circle cx="184.3" cy="394.5" r="0.88" fill="#6e44cc" opacity="0.6"/>
<circle cx="182.4" cy="398.0" r="0.74" fill="#6e44cc" opacity="0.6"/>
<circle cx="177.3" cy="386.9" r="1.39" fill="#7448d0" opacity="0.6"/>
<circle cx="177.8" cy="388.5" r="0.70" fill="#b48cf2" opacity="0.6"/>
<circle cx="178.7" cy="391.1" r="0.83" fill="#7448d0" opacity="0.6"/>
<circle cx="184.4" cy="385.4" r="1.07" fill="#b898f0" opacity="0.6"/>
<circle cx="191.2" cy="386.7" r="0.81" fill="#6e44cc" opacity="0.6"/>
<circle cx="172.8" cy="387.9" r="0.85" fill="#b48cf2" opacity="0.6"/>
<circle cx="183.4" cy="390.2" r="0.66" fill="#b48cf2" opacity="0.6"/>
<circle cx="179.2" cy="392.7" r="0.76" fill="#b48cf2" opacity="0.6"/>
<circle cx="177.2" cy="395.9" r="0.68" fill="#6e44cc" opacity="0.6"/>
<circle cx="184.7" cy="395.1" r="1.19" fill="#b898f0" opacity="0.6"/>
<circle cx="179.2" cy="385.3" r="1.13" fill="#6e44cc" opacity="0.6"/>
<circle cx="216.2" cy="385.7" r="1.30" fill="#a078e6" opacity="0.55"/>
<circle cx="210.4" cy="389.8" r="1.08" fill="#9466e4" opacity="0.55"/>
<circle cx="207.7" cy="382.2" r="0.68" fill="#9466e4" opacity="0.55"/>
<circle cx="198.3" cy="386.7" r="1.39" fill="#5c34c0" opacity="0.55"/>
<circle cx="215.0" cy="385.9" r="1.50" fill="#6438c4" opacity="0.55"/>
<circle cx="214.2" cy="383.5" r="1.46" fill="#9466e4" opacity="0.55"/>
<circle cx="199.7" cy="385.2" r="0.98" fill="#6438c4" opacity="0.55"/>
<circle cx="211.9" cy="390.6" r="1.24" fill="#9466e4" opacity="0.55"/>
<circle cx="220.3" cy="389.7" r="0.99" fill="#a078e6" opacity="0.55"/>
<circle cx="207.7" cy="379.3" r="1.06" fill="#6438c4" opacity="0.55"/>
<circle cx="199.9" cy="387.6" r="0.63" fill="#9a48c8" opacity="0.55"/>
<circle cx="201.6" cy="384.3" r="1.56" fill="#5c34c0" opacity="0.55"/>
<circle cx="217.0" cy="398.6" r="0.86" fill="#6438c4" opacity="0.55"/>
<circle cx="215.4" cy="390.9" r="0.80" fill="#9a48c8" opacity="0.55"/>
<circle cx="214.4" cy="402.4" r="1.10" fill="#6438c4" opacity="0.55"/>
<circle cx="209.0" cy="399.5" r="0.80" fill="#a078e6" opacity="0.55"/>
<circle cx="198.4" cy="395.8" r="1.48" fill="#5c34c0" opacity="0.55"/>
<circle cx="201.5" cy="397.7" r="0.81" fill="#a078e6" opacity="0.55"/>
<circle cx="213.5" cy="396.7" r="1.31" fill="#9466e4" opacity="0.55"/>
<circle cx="214.9" cy="387.9" r="0.71" fill="#5c34c0" opacity="0.55"/>
<circle cx="196.8" cy="392.8" r="0.98" fill="#6438c4" opacity="0.55"/>
<circle cx="198.4" cy="388.8" r="1.05" fill="#9a48c8" opacity="0.55"/>
<circle cx="210.6" cy="391.5" r="0.64" fill="#9a48c8" opacity="0.55"/>
<circle cx="206.2" cy="379.7" r="1.25" fill="#a078e6" opacity="0.55"/>
<circle cx="199.4" cy="385.8" r="1.05" fill="#6438c4" opacity="0.55"/>
<circle cx="219.8" cy="392.3" r="1.38" fill="#5c34c0" opacity="0.55"/>
<circle cx="212.2" cy="376.5" r="1.05" fill="#9466e4" opacity="0.55"/>
<circle cx="201.7" cy="381.7" r="1.56" fill="#a078e6" opacity="0.55"/>
<circle cx="206.4" cy="384.4" r="0.86" fill="#6438c4" opacity="0.55"/>
<circle cx="206.2" cy="378.0" r="1.31" fill="#9a48c8" opacity="0.55"/>
<circle cx="211.4" cy="397.1" r="1.14" fill="#a078e6" opacity="0.55"/>
<circle cx="217.0" cy="386.9" r="0.99" fill="#5c34c0" opacity="0.55"/>
<circle cx="211.7" cy="377.0" r="1.01" fill="#9466e4" opacity="0.55"/>
<circle cx="214.7" cy="384.7" r="1.05" fill="#6438c4" opacity="0.55"/>
<circle cx="200.2" cy="380.5" r="1.15" fill="#6438c4" opacity="0.55"/>
<circle cx="203.5" cy="381.9" r="1.06" fill="#a078e6" opacity="0.55"/>
<circle cx="205.3" cy="385.0" r="0.81" fill="#9466e4" opacity="0.55"/>
<circle cx="218.6" cy="381.9" r="1.14" fill="#a078e6" opacity="0.55"/>
<circle cx="210.4" cy="382.4" r="0.95" fill="#9466e4" opacity="0.55"/>
<circle cx="215.8" cy="395.1" r="1.02" fill="#9a48c8" opacity="0.55"/>
<circle cx="206.7" cy="404.0" r="1.41" fill="#5c34c0" opacity="0.55"/>
<circle cx="218.9" cy="395.4" r="1.13" fill="#5c34c0" opacity="0.55"/>
<circle cx="204.0" cy="377.5" r="0.75" fill="#6438c4" opacity="0.55"/>
<circle cx="198.0" cy="389.0" r="1.55" fill="#6438c4" opacity="0.55"/>
<circle cx="196.4" cy="391.0" r="1.36" fill="#9466e4" opacity="0.55"/>
<circle cx="199.9" cy="394.3" r="1.24" fill="#9a48c8" opacity="0.55"/>
<circle cx="197.2" cy="388.4" r="0.86" fill="#9a48c8" opacity="0.55"/>
<circle cx="202.8" cy="377.8" r="0.81" fill="#9a48c8" opacity="0.55"/>
<circle cx="215.9" cy="378.8" r="0.87" fill="#9a48c8" opacity="0.55"/>
<circle cx="200.6" cy="390.4" r="1.10" fill="#9466e4" opacity="0.55"/>
<ellipse cx="198.6" cy="392" rx="3.2" ry="7" fill="#ece6f8" opacity="0.95" filter="url(#bl2)"/>
<ellipse cx="183.5" cy="387" rx="1.6" ry="1.3" fill="#d8d0f4" opacity="0.8"/>
</g>
<text x="159.60" y="415.20" font-size="9.0" font-weight="normal" text-anchor="start" fill="#1a1a1a" stroke="#1a1a1a" stroke-width="0.28">Vector</text>
<line x1="224.90" y1="414.30" x2="235.50" y2="414.30" stroke="#111" stroke-width="1.8"/>
<rect x="157.30" y="421.70" width="82.20" height="46.00" fill="#eadcee" stroke="#3a3a3a" stroke-width="1.4"/>
<clipPath id="fb"><rect x="158" y="422.4" width="80.8" height="44.6"/></clipPath>
<g clip-path="url(#fb)"><g filter="url(#bl)">
<ellipse cx="180" cy="440" rx="26" ry="22" fill="url(#cy1)"/>
<ellipse cx="165" cy="450" rx="8" ry="8" fill="#ece6f4" opacity="0.8"/>
<ellipse cx="222" cy="443" rx="22" ry="24" fill="url(#cy2)"/>
<ellipse cx="157" cy="440" rx="2.5" ry="10" fill="#9a60b0"/>
<ellipse cx="183" cy="442.3" rx="14.8" ry="11.3" fill="url(#n1)"/>
<ellipse cx="220.5" cy="448" rx="15.3" ry="12.2" fill="url(#n2)"/>
<circle cx="180.7" cy="445.8" r="0.67" fill="#c070cc" opacity="0.6"/>
<circle cx="175.3" cy="440.9" r="1.42" fill="#c070cc" opacity="0.6"/>
<circle cx="183.8" cy="445.2" r="0.66" fill="#902aa8" opacity="0.6"/>
<circle cx="190.1" cy="445.8" r="1.45" fill="#c070cc" opacity="0.6"/>
<circle cx="176.2" cy="436.7" r="1.12" fill="#c070cc" opacity="0.6"/>
<circle cx="172.8" cy="448.3" r="1.10" fill="#c070cc" opacity="0.6"/>
<circle cx="188.6" cy="447.1" r="1.11" fill="#c070cc" opacity="0.6"/>
<circle cx="173.0" cy="439.2" r="1.12" fill="#c070cc" opacity="0.6"/>
<circle cx="177.9" cy="437.6" r="1.11" fill="#c070cc" opacity="0.6"/>
<circle cx="176.3" cy="437.5" r="1.30" fill="#902aa8" opacity="0.6"/>
<circle cx="170.8" cy="444.4" r="0.87" fill="#c884d0" opacity="0.6"/>
<circle cx="186.0" cy="434.3" r="0.67" fill="#8a2ca0" opacity="0.6"/>
<circle cx="180.2" cy="449.0" r="1.26" fill="#c884d0" opacity="0.6"/>
<circle cx="180.0" cy="451.9" r="1.06" fill="#c070cc" opacity="0.6"/>
<circle cx="186.9" cy="447.3" r="0.98" fill="#902aa8" opacity="0.6"/>
<circle cx="186.5" cy="441.6" r="0.91" fill="#c884d0" opacity="0.6"/>
<circle cx="177.6" cy="448.0" r="0.66" fill="#902aa8" opacity="0.6"/>
<circle cx="188.6" cy="445.2" r="0.65" fill="#c070cc" opacity="0.6"/>
<circle cx="179.9" cy="434.6" r="0.86" fill="#902aa8" opacity="0.6"/>
<circle cx="175.0" cy="447.7" r="1.45" fill="#c070cc" opacity="0.6"/>
<circle cx="176.7" cy="448.5" r="0.65" fill="#902aa8" opacity="0.6"/>
<circle cx="183.5" cy="438.7" r="0.96" fill="#8a2ca0" opacity="0.6"/>
<circle cx="190.9" cy="438.8" r="1.00" fill="#8a2ca0" opacity="0.6"/>
<circle cx="171.4" cy="439.4" r="1.38" fill="#902aa8" opacity="0.6"/>
<circle cx="181.5" cy="448.6" r="1.21" fill="#c884d0" opacity="0.6"/>
<circle cx="178.4" cy="445.6" r="0.76" fill="#c070cc" opacity="0.6"/>
<circle cx="183.7" cy="447.1" r="1.35" fill="#902aa8" opacity="0.6"/>
<circle cx="185.8" cy="447.1" r="0.98" fill="#8a2ca0" opacity="0.6"/>
<circle cx="176.3" cy="447.8" r="1.22" fill="#8a2ca0" opacity="0.6"/>
<circle cx="172.8" cy="441.5" r="1.01" fill="#c070cc" opacity="0.6"/>
<circle cx="191.7" cy="435.2" r="0.96" fill="#902aa8" opacity="0.6"/>
<circle cx="175.9" cy="446.6" r="0.66" fill="#902aa8" opacity="0.6"/>
<circle cx="188.4" cy="444.2" r="0.70" fill="#8a2ca0" opacity="0.6"/>
<circle cx="179.6" cy="440.4" r="1.08" fill="#8a2ca0" opacity="0.6"/>
<circle cx="192.7" cy="439.8" r="1.39" fill="#c070cc" opacity="0.6"/>
<circle cx="179.2" cy="439.8" r="1.46" fill="#c884d0" opacity="0.6"/>
<circle cx="175.8" cy="438.2" r="1.36" fill="#c070cc" opacity="0.6"/>
<circle cx="191.9" cy="442.0" r="0.88" fill="#902aa8" opacity="0.6"/>
<circle cx="189.9" cy="449.1" r="1.03" fill="#c884d0" opacity="0.6"/>
<circle cx="179.7" cy="435.6" r="1.46" fill="#8a2ca0" opacity="0.6"/>
<circle cx="220.9" cy="426.4" r="0.67" fill="#f6f0fa" opacity="0.9"/>
<circle cx="204.9" cy="435.1" r="0.89" fill="#f6f0fa" opacity="0.9"/>
<circle cx="231.6" cy="439.0" r="0.53" fill="#f6f0fa" opacity="0.9"/>
<circle cx="215.7" cy="426.8" r="0.79" fill="#f6f0fa" opacity="0.9"/>
<circle cx="221.0" cy="440.9" r="0.56" fill="#f6f0fa" opacity="0.9"/>
<circle cx="211.1" cy="441.7" r="0.89" fill="#f6f0fa" opacity="0.9"/>
<circle cx="231.3" cy="441.5" r="0.81" fill="#f6f0fa" opacity="0.9"/>
<circle cx="227.7" cy="428.2" r="0.66" fill="#f6f0fa" opacity="0.9"/>
<circle cx="215.4" cy="423.7" r="0.41" fill="#f6f0fa" opacity="0.9"/>
<circle cx="212.9" cy="429.0" r="0.75" fill="#f6f0fa" opacity="0.9"/>
<circle cx="234.6" cy="433.3" r="0.87" fill="#f6f0fa" opacity="0.9"/>
<circle cx="235.6" cy="445.0" r="0.58" fill="#f6f0fa" opacity="0.9"/>
<circle cx="211.1" cy="428.2" r="0.50" fill="#f6f0fa" opacity="0.9"/>
<circle cx="210.5" cy="437.4" r="0.85" fill="#f6f0fa" opacity="0.9"/>
<circle cx="230.9" cy="434.0" r="0.73" fill="#f6f0fa" opacity="0.9"/>
<circle cx="229.6" cy="424.9" r="0.73" fill="#f6f0fa" opacity="0.9"/>
<circle cx="233.1" cy="441.0" r="0.78" fill="#f6f0fa" opacity="0.9"/>
<circle cx="219.3" cy="427.1" r="0.79" fill="#f6f0fa" opacity="0.9"/>
<circle cx="214.6" cy="441.4" r="0.89" fill="#f6f0fa" opacity="0.9"/>
<circle cx="216.7" cy="432.2" r="0.87" fill="#f6f0fa" opacity="0.9"/>
<circle cx="227.2" cy="426.9" r="0.46" fill="#f6f0fa" opacity="0.9"/>
<circle cx="208.8" cy="443.8" r="0.80" fill="#f6f0fa" opacity="0.9"/>
<circle cx="208.7" cy="442.0" r="0.89" fill="#f6f0fa" opacity="0.9"/>
<circle cx="225.0" cy="431.1" r="0.67" fill="#f6f0fa" opacity="0.9"/>
<circle cx="208.2" cy="423.3" r="0.89" fill="#f6f0fa" opacity="0.9"/>
<circle cx="224.8" cy="435.1" r="0.87" fill="#f6f0fa" opacity="0.9"/>
<circle cx="217.9" cy="443.1" r="0.81" fill="#f6f0fa" opacity="0.9"/>
<circle cx="210.8" cy="428.8" r="0.55" fill="#f6f0fa" opacity="0.9"/>
<circle cx="211.7" cy="436.5" r="0.53" fill="#f6f0fa" opacity="0.9"/>
<circle cx="217.4" cy="426.0" r="0.86" fill="#f6f0fa" opacity="0.9"/>
<circle cx="215.3" cy="433.5" r="0.69" fill="#f6f0fa" opacity="0.9"/>
<circle cx="232.9" cy="432.7" r="0.86" fill="#f6f0fa" opacity="0.9"/>
<circle cx="220.1" cy="435.2" r="0.66" fill="#f6f0fa" opacity="0.9"/>
<circle cx="204.6" cy="433.1" r="0.49" fill="#f6f0fa" opacity="0.9"/>
<circle cx="204.1" cy="441.4" r="0.49" fill="#f6f0fa" opacity="0.9"/>
<circle cx="219.2" cy="439.7" r="0.68" fill="#f6f0fa" opacity="0.9"/>
<circle cx="214.4" cy="434.9" r="0.68" fill="#f6f0fa" opacity="0.9"/>
<circle cx="229.1" cy="425.4" r="0.68" fill="#f6f0fa" opacity="0.9"/>
<circle cx="212.0" cy="429.4" r="0.79" fill="#f6f0fa" opacity="0.9"/>
<circle cx="220.2" cy="435.9" r="0.78" fill="#f6f0fa" opacity="0.9"/>
<circle cx="233.2" cy="433.2" r="0.71" fill="#f6f0fa" opacity="0.9"/>
<circle cx="220.2" cy="434.8" r="0.75" fill="#f6f0fa" opacity="0.9"/>
<circle cx="218.5" cy="435.3" r="0.64" fill="#f6f0fa" opacity="0.9"/>
<circle cx="234.1" cy="439.1" r="0.84" fill="#f6f0fa" opacity="0.9"/>
<circle cx="234.1" cy="429.0" r="0.68" fill="#f6f0fa" opacity="0.9"/>
<circle cx="234.2" cy="442.3" r="0.47" fill="#f6f0fa" opacity="0.9"/>
<circle cx="207.9" cy="433.2" r="0.44" fill="#f6f0fa" opacity="0.9"/>
<circle cx="211.7" cy="424.7" r="0.73" fill="#f6f0fa" opacity="0.9"/>
<circle cx="229.1" cy="443.6" r="0.48" fill="#f6f0fa" opacity="0.9"/>
<circle cx="226.9" cy="438.2" r="0.47" fill="#f6f0fa" opacity="0.9"/>
<circle cx="232.3" cy="445.3" r="0.51" fill="#f6f0fa" opacity="0.9"/>
<circle cx="234.5" cy="432.2" r="0.64" fill="#f6f0fa" opacity="0.9"/>
<circle cx="235.7" cy="442.1" r="0.48" fill="#f6f0fa" opacity="0.9"/>
<circle cx="217.8" cy="434.9" r="0.57" fill="#f6f0fa" opacity="0.9"/>
<circle cx="210.3" cy="430.3" r="0.76" fill="#f6f0fa" opacity="0.9"/>
<circle cx="204.6" cy="435.7" r="0.62" fill="#f6f0fa" opacity="0.9"/>
<circle cx="204.6" cy="430.6" r="0.71" fill="#f6f0fa" opacity="0.9"/>
<circle cx="220.4" cy="424.5" r="0.89" fill="#f6f0fa" opacity="0.9"/>
<circle cx="229.2" cy="445.3" r="0.45" fill="#f6f0fa" opacity="0.9"/>
<circle cx="212.5" cy="423.9" r="0.79" fill="#f6f0fa" opacity="0.9"/>
<circle cx="212.5" cy="426.9" r="0.71" fill="#5a2a90" opacity="0.7"/>
<circle cx="227.9" cy="437.3" r="0.63" fill="#5a2a90" opacity="0.7"/>
<circle cx="209.6" cy="438.8" r="0.79" fill="#5a2a90" opacity="0.7"/>
<circle cx="222.8" cy="426.3" r="0.53" fill="#5a2a90" opacity="0.7"/>
<circle cx="222.5" cy="431.4" r="0.54" fill="#5a2a90" opacity="0.7"/>
<circle cx="228.5" cy="434.5" r="0.90" fill="#5a2a90" opacity="0.7"/>
<circle cx="208.0" cy="437.8" r="0.53" fill="#5a2a90" opacity="0.7"/>
<circle cx="226.7" cy="431.8" r="0.67" fill="#5a2a90" opacity="0.7"/>
<circle cx="219.3" cy="438.9" r="0.63" fill="#5a2a90" opacity="0.7"/>
<circle cx="209.1" cy="432.9" r="0.62" fill="#5a2a90" opacity="0.7"/>
<circle cx="208.6" cy="427.4" r="0.53" fill="#5a2a90" opacity="0.7"/>
<circle cx="210.8" cy="429.7" r="0.65" fill="#5a2a90" opacity="0.7"/>
<circle cx="224.2" cy="429.3" r="0.75" fill="#5a2a90" opacity="0.7"/>
<circle cx="210.3" cy="430.2" r="0.51" fill="#5a2a90" opacity="0.7"/>
<circle cx="212.0" cy="425.2" r="0.87" fill="#5a2a90" opacity="0.7"/>
<circle cx="219.2" cy="427.8" r="0.74" fill="#5a2a90" opacity="0.7"/>
<circle cx="228.4" cy="426.6" r="0.91" fill="#5a2a90" opacity="0.7"/>
<circle cx="216.4" cy="432.4" r="0.92" fill="#5a2a90" opacity="0.7"/>
<circle cx="215.4" cy="432.6" r="0.84" fill="#5a2a90" opacity="0.7"/>
<circle cx="229.6" cy="430.1" r="0.92" fill="#5a2a90" opacity="0.7"/>
<circle cx="225.0" cy="450.8" r="0.60" fill="#e0c8ec" opacity="0.85"/>
<circle cx="216.3" cy="440.9" r="0.46" fill="#e0c8ec" opacity="0.85"/>
<circle cx="209.7" cy="452.6" r="0.53" fill="#e0c8ec" opacity="0.85"/>
<circle cx="211.9" cy="441.4" r="0.82" fill="#e0c8ec" opacity="0.85"/>
<circle cx="228.9" cy="451.4" r="0.54" fill="#e0c8ec" opacity="0.85"/>
<circle cx="213.8" cy="445.0" r="0.63" fill="#e0c8ec" opacity="0.85"/>
<circle cx="211.8" cy="447.6" r="0.53" fill="#e0c8ec" opacity="0.85"/>
<circle cx="231.1" cy="456.5" r="0.67" fill="#e0c8ec" opacity="0.85"/>
<circle cx="213.9" cy="456.4" r="0.55" fill="#e0c8ec" opacity="0.85"/>
<circle cx="216.6" cy="440.0" r="0.59" fill="#e0c8ec" opacity="0.85"/>
<circle cx="219.4" cy="448.5" r="0.50" fill="#e0c8ec" opacity="0.85"/>
<circle cx="220.1" cy="440.1" r="0.53" fill="#e0c8ec" opacity="0.85"/>
<circle cx="210.2" cy="446.8" r="0.42" fill="#e0c8ec" opacity="0.85"/>
<circle cx="208.5" cy="445.2" r="0.52" fill="#e0c8ec" opacity="0.85"/>
<circle cx="222.1" cy="449.0" r="0.78" fill="#e0c8ec" opacity="0.85"/>
<circle cx="223.8" cy="452.2" r="0.84" fill="#e0c8ec" opacity="0.85"/>
<path d="M202.6,421 L199.2,460" stroke="#c8d4e8" stroke-width="2.4" opacity="0.8"/>
<path d="M202.6,421 L199.2,460" stroke="#f4f8fc" stroke-width="1.1"/>
</g></g>
<text x="159.30" y="466.00" font-size="8.8" font-weight="normal" text-anchor="start" fill="#1a1a1a" stroke="#1a1a1a" stroke-width="0.28">Lenti-193a</text>
<line x1="225.80" y1="465.10" x2="235.90" y2="465.10" stroke="#111" stroke-width="1.8"/>
<text x="242.50" y="379.30" font-size="14.6" font-weight="bold" text-anchor="start" fill="#000" stroke="#000" stroke-width="0.12">G</text>
<text x="260.20" y="443.20" font-size="6.57" font-weight="bold" text-anchor="start" fill="#111" transform="rotate(-90 260.2 443.2)" stroke="#111" stroke-width="0.12">No. CFUs/1000 Cells</text>
<text x="269.50" y="456.80" font-size="5.2" font-weight="normal" text-anchor="end" fill="#444" stroke="#444" stroke-width="0.28">0</text>
<line x1="269.80" y1="455.00" x2="271.00" y2="455.00" stroke="#888" stroke-width="0.8"/>
<text x="269.50" y="417.30" font-size="5.2" font-weight="normal" text-anchor="end" fill="#444" stroke="#444" stroke-width="0.28">10</text>
<line x1="269.80" y1="415.50" x2="271.00" y2="415.50" stroke="#888" stroke-width="0.8"/>
<text x="269.50" y="377.80" font-size="5.2" font-weight="normal" text-anchor="end" fill="#444" stroke="#444" stroke-width="0.28">20</text>
<line x1="269.80" y1="376.00" x2="271.00" y2="376.00" stroke="#888" stroke-width="0.8"/>
<line x1="271.00" y1="375.60" x2="271.00" y2="455.00" stroke="#8a8a8a" stroke-width="1.0"/>
<line x1="271.00" y1="455.00" x2="346.25" y2="455.00" stroke="#8a8a8a" stroke-width="1.0"/>
<rect x="278.10" y="388.50" width="15.00" height="66.50" fill="#fff" stroke="#606060" stroke-width="0.9"/>
<rect x="300.60" y="391.90" width="15.00" height="63.10" fill="#fff" stroke="#606060" stroke-width="0.9"/>
<rect x="323.10" y="424.00" width="15.60" height="31.00" fill="#fff" stroke="#606060" stroke-width="0.9"/>
<line x1="282.50" y1="388.30" x2="289.00" y2="388.30" stroke="#333" stroke-width="0.9"/>
<line x1="305.00" y1="391.70" x2="311.00" y2="391.70" stroke="#333" stroke-width="0.9"/>
<line x1="327.20" y1="423.30" x2="335.00" y2="423.30" stroke="#555" stroke-width="0.9"/>
<path d="M308.5,389.4 V384.4 H330.6 V421" stroke="#333" stroke-width="1.0" fill="none"/>
<text x="304.2" y="379.8" font-size="7.3" fill="#1a1a1a" stroke="#1a1a1a" stroke-width="0.25"><tspan font-style="italic">p</tspan>=0.0008</text>
<text x="285.70" y="466.00" font-size="7.3" font-weight="normal" text-anchor="middle" fill="#222" stroke="#222" stroke-width="0.28">WT</text>
<text x="308.40" y="466.00" font-size="7.3" font-weight="normal" text-anchor="middle" fill="#222" stroke="#222" stroke-width="0.28">Vector</text>
<text x="339.00" y="465.50" font-size="7.0" font-weight="normal" text-anchor="middle" fill="#222" stroke="#222" stroke-width="0.28">Lenti-193a</text>
<text x="342.60" y="379.30" font-size="14.4" font-weight="bold" text-anchor="start" fill="#000" stroke="#000" stroke-width="0.12">H</text>
<defs>
<linearGradient id="h1" x1="0" y1="0" x2="1" y2="1"><stop offset="0" stop-color="#c2d0da"/><stop offset="0.5" stop-color="#cad6e0"/><stop offset="1" stop-color="#b8c8d6"/></linearGradient>
<linearGradient id="h2" x1="0" y1="0" x2="1" y2="1"><stop offset="0" stop-color="#b4c2c0"/><stop offset="0.5" stop-color="#b8c6c4"/><stop offset="1" stop-color="#aab8b6"/></linearGradient>
</defs>
<rect x="357.10" y="375.30" width="51.80" height="41.90" fill="url(#h1)" stroke="#222" stroke-width="1.6"/>
<rect x="357.10" y="419.20" width="51.80" height="41.50" fill="url(#h2)" stroke="#222" stroke-width="1.6"/>
<circle cx="378.8" cy="381.8" r="3.5999999999999996" fill="#dfe8ee" opacity="0.7"/>
<circle cx="378.8" cy="381.8" r="2.4" fill="#3c4446"/>
<circle cx="389.5" cy="403.6" r="3.3" fill="#dfe8ee" opacity="0.7"/>
<circle cx="389.5" cy="403.6" r="2.1" fill="#35403a"/>
<circle cx="394.4" cy="414.0" r="3.5" fill="#dfe8ee" opacity="0.7"/>
<circle cx="394.4" cy="414.0" r="2.3" fill="#2c3a22"/>
<circle cx="376.9" cy="423" r="1.2" fill="#3a4444"/>
<circle cx="385.2" cy="441.5" r="1.1" fill="#3a4444"/>
<text x="358.60" y="415.00" font-size="7.1" font-weight="normal" text-anchor="start" fill="#1a1a1a" stroke="#1a1a1a" stroke-width="0.28">Vector</text>
<line x1="395.30" y1="413.80" x2="406.40" y2="413.80" stroke="#111" stroke-width="1.5"/>
<text x="359.00" y="458.30" font-size="7.0" font-weight="normal" text-anchor="start" fill="#1a1a1a" stroke="#1a1a1a" stroke-width="0.28">Lenti-193a</text>
<line x1="396.20" y1="457.40" x2="406.40" y2="457.40" stroke="#111" stroke-width="1.5"/>
<text x="416.50" y="379.30" font-size="14.4" font-weight="bold" text-anchor="start" fill="#000" stroke="#000" stroke-width="0.12">I</text>
<text x="424.80" y="446.75" font-size="7.2" font-weight="normal" text-anchor="start" fill="#1a1a1a" transform="rotate(-90 424.8 446.75)" stroke="#1a1a1a" stroke-width="0.28">Apoptosis Cells (%)</text>
<text x="437.60" y="457.85" font-size="7.4" font-weight="normal" text-anchor="end" fill="#2a2a2a" stroke="#2a2a2a" stroke-width="0.28">0</text>
<line x1="438.55" y1="455.25" x2="439.75" y2="455.25" stroke="#888" stroke-width="0.8"/>
<text x="437.60" y="430.83" font-size="7.4" font-weight="normal" text-anchor="end" fill="#2a2a2a" stroke="#2a2a2a" stroke-width="0.28">10</text>
<line x1="438.55" y1="428.23" x2="439.75" y2="428.23" stroke="#888" stroke-width="0.8"/>
<text x="437.60" y="403.82" font-size="7.4" font-weight="normal" text-anchor="end" fill="#2a2a2a" stroke="#2a2a2a" stroke-width="0.28">20</text>
<line x1="438.55" y1="401.22" x2="439.75" y2="401.22" stroke="#888" stroke-width="0.8"/>
<text x="437.60" y="376.80" font-size="7.4" font-weight="normal" text-anchor="end" fill="#2a2a2a" stroke="#2a2a2a" stroke-width="0.28">30</text>
<line x1="438.55" y1="374.20" x2="439.75" y2="374.20" stroke="#888" stroke-width="0.8"/>
<line x1="439.75" y1="374.00" x2="439.75" y2="455.25" stroke="#8a8a8a" stroke-width="1.0"/>
<line x1="439.75" y1="455.25" x2="514.75" y2="455.25" stroke="#8a8a8a" stroke-width="1.0"/>
<rect x="447.50" y="432.10" width="15.25" height="23.15" fill="#fff" stroke="#606060" stroke-width="0.9"/>
<rect x="469.40" y="430.50" width="16.00" height="24.75" fill="#fff" stroke="#606060" stroke-width="0.9"/>
<rect x="492.50" y="387.50" width="15.50" height="67.75" fill="#fff" stroke="#606060" stroke-width="0.9"/>
<line x1="452.00" y1="431.60" x2="458.50" y2="431.60" stroke="#444" stroke-width="0.9"/>
<line x1="474.00" y1="429.50" x2="481.00" y2="429.50" stroke="#444" stroke-width="0.9"/>
<line x1="496.30" y1="384.40" x2="503.70" y2="384.40" stroke="#444" stroke-width="0.9"/>
<line x1="500.00" y1="384.40" x2="500.00" y2="387.50" stroke="#444" stroke-width="0.9"/>
<path d="M477.75,424 V378.1 H499.4 V382.5" stroke="#333" stroke-width="1.0" fill="none"/>
<text x="474.8" y="372.8" font-size="7.1" fill="#111" stroke="#111" stroke-width="0.25"><tspan font-style="italic">p</tspan>=0.005</text>
<text x="454.90" y="465.25" font-size="7.2" font-weight="normal" text-anchor="middle" fill="#222" stroke="#222" stroke-width="0.28">WT</text>
<text x="477.60" y="465.25" font-size="7.2" font-weight="normal" text-anchor="middle" fill="#222" stroke="#222" stroke-width="0.28">NC</text>
<text x="503.30" y="465.25" font-size="7.2" font-weight="normal" text-anchor="middle" fill="#222" stroke="#222" stroke-width="0.28">miR-193a</text>
</svg>
</body></html>
